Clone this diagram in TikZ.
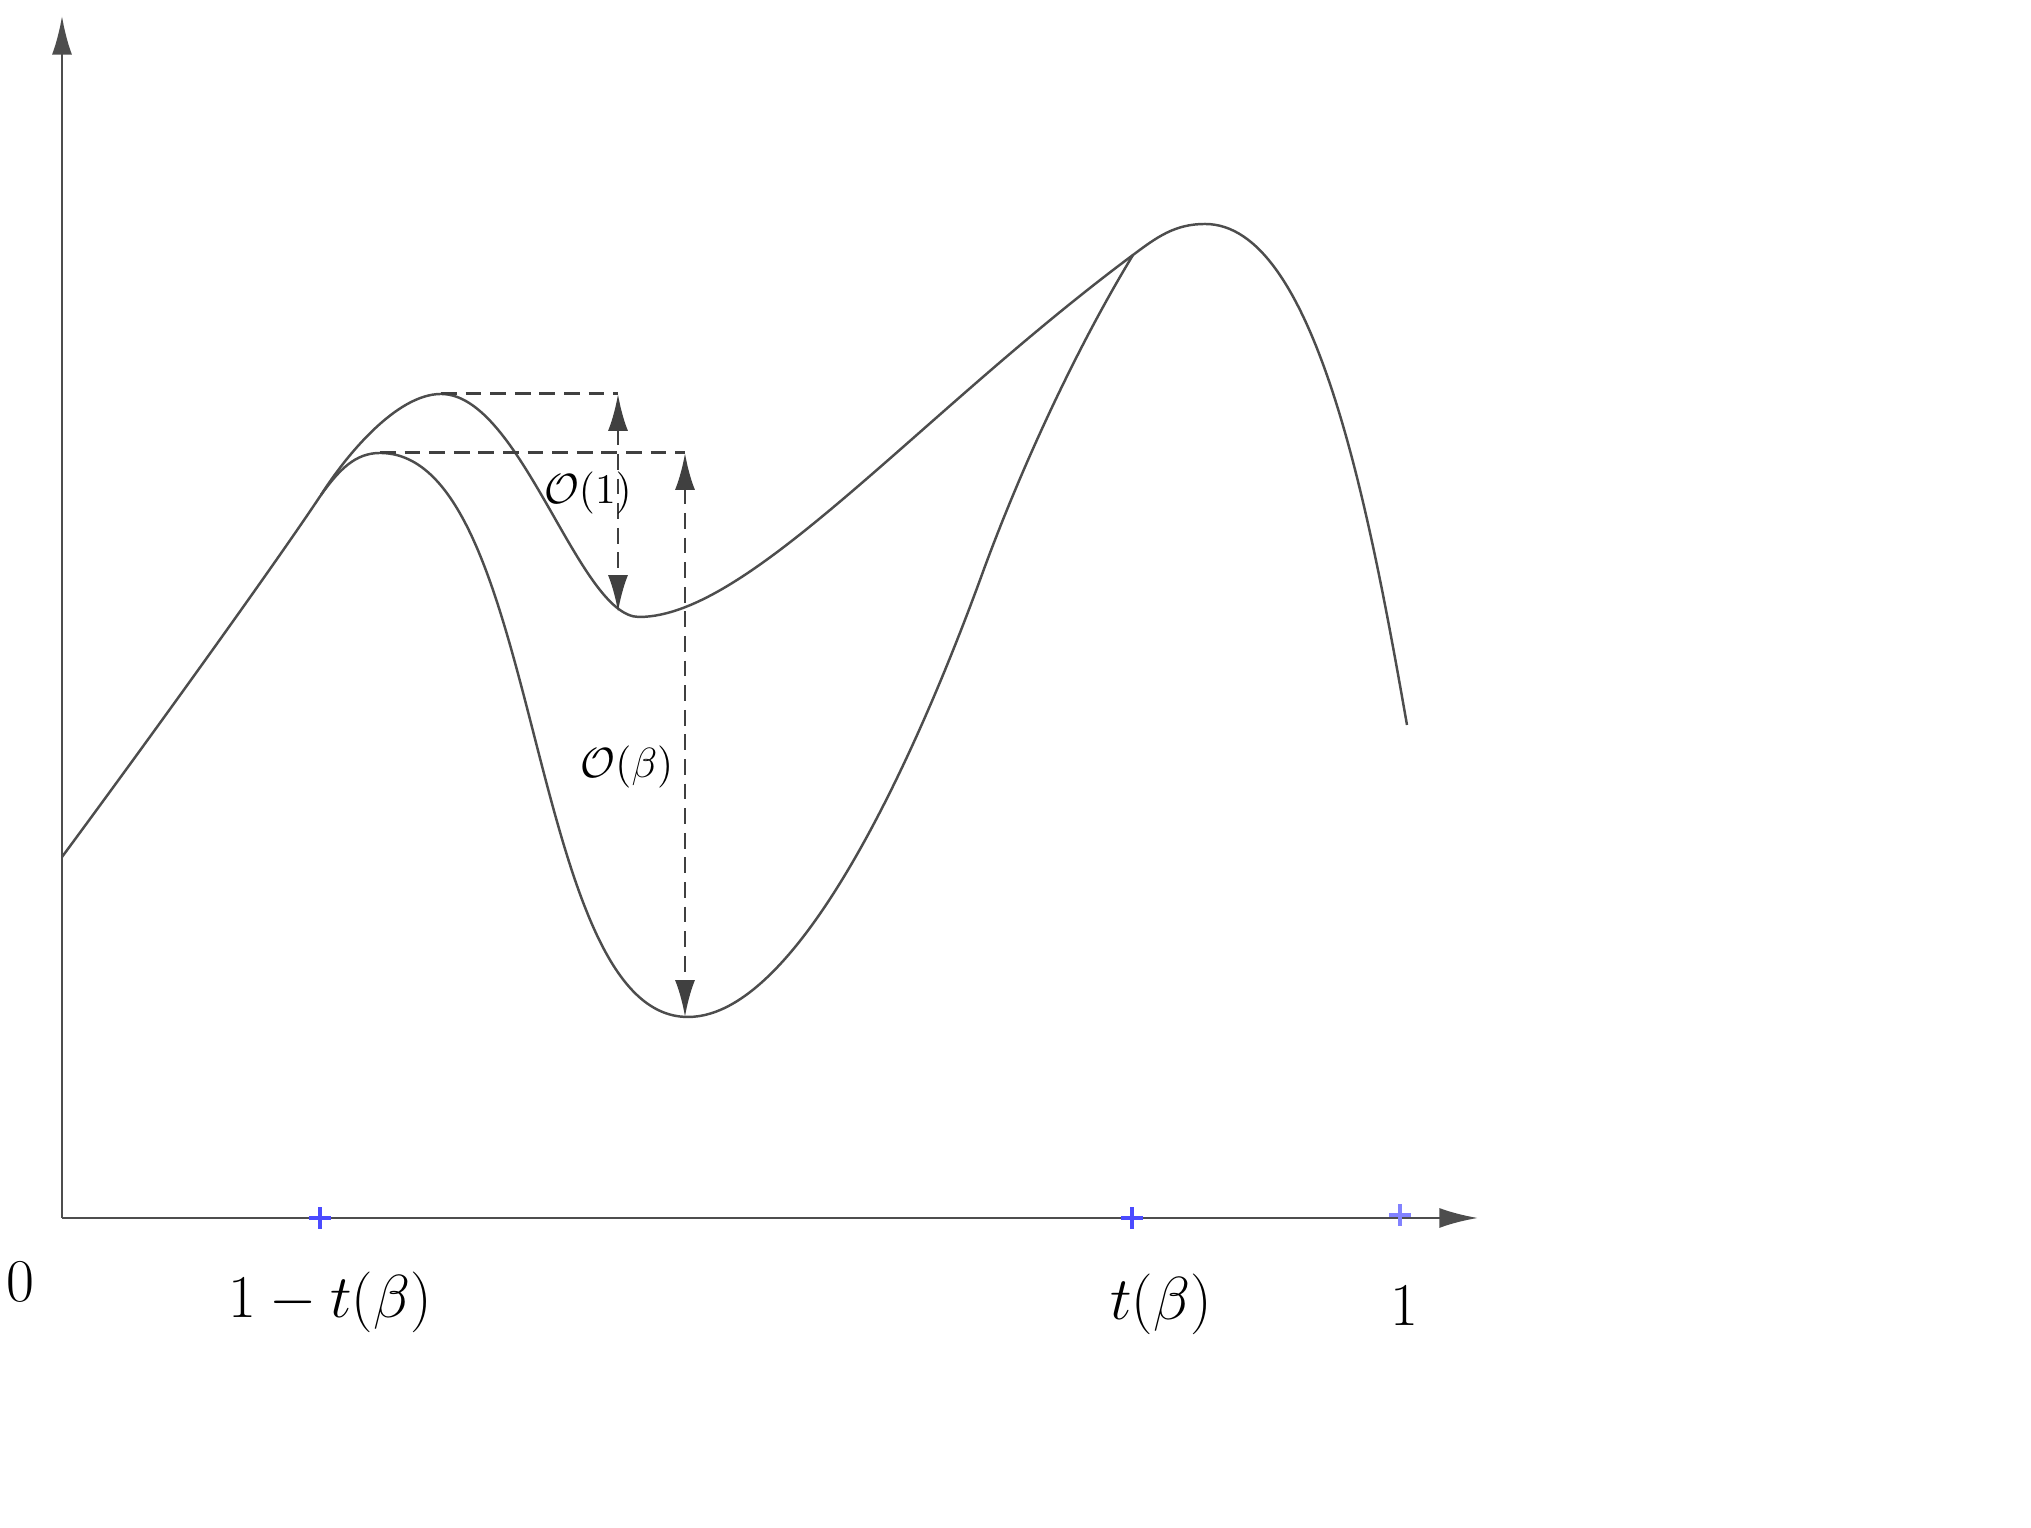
\documentclass[tikz,border=0pt]{standalone}
\usepackage{amsmath}
\usetikzlibrary{arrows.meta}

\definecolor{curvegray}{HTML}{4D4D4D}
\definecolor{guidegray}{HTML}{404040}
\definecolor{tickblue}{HTML}{4B4BFF}
\definecolor{ticklight}{HTML}{8282FF}

\begin{document}
\begin{tikzpicture}[
  axis/.style = {draw=curvegray, line width=0.75pt, -{Latex[length=11pt,width=5.7pt]}},
  curve/.style = {draw=curvegray, line width=0.7pt},
  guide/.style = {draw=guidegray, line width=0.85pt, dash pattern=on 4.5pt off 2.5pt},
  gap/.style = {guide, {Latex[length=10.5pt,width=5.7pt]}-{Latex[length=10.5pt,width=5.7pt]}},
  ticklab/.style = {font=\fontsize{17}{20}\selectfont},
  gaplab/.style = {font=\fontsize{11.5}{14}\selectfont},
  tickmark/.style = {line width=1.2pt}
]
\useasboundingbox (-0.62,-3.10) rectangle (19.69,12.18);

% axes
\coordinate (O) at (0,0);
\coordinate (xend) at (14.16,0);
\coordinate (yend) at (0,12.02);
\draw[axis] (O) -- (xend);
\draw[axis] (O) -- (yend);

% points on the curves
\coordinate (start) at (0,3.61);
\coordinate (split) at (2.59,7.23);
\coordinate (top1) at (3.79,8.24);
\coordinate (top2) at (3.18,7.65);
\coordinate (bot1) at (5.77,6.01);
\coordinate (bot2) at (6.26,2.01);
\coordinate (steep) at (9.22,6.49);
\coordinate (join) at (10.71,9.63);
\coordinate (top3) at (11.43,9.94);
\coordinate (stop) at (13.45,4.93);

% upper curve
\draw[curve] (start) .. controls +(0.85,1.15) and +(-0.5,-0.75) .. (split)
  .. controls +(0.24,0.38) and +(-0.45,0) .. (top1)
  .. controls +(0.8,0) and +(-0.6,0) .. (bot1)
  .. controls +(1.1,0) and +(-2.15,-1.6) .. (join)
  .. controls +(0.24,0.18) and +(-0.3,0) .. (top3)
  .. controls +(1.1,0) and +(-0.38,2.17) .. (stop);

% lower curve
\draw[curve] (split) .. controls +(0.18,0.25) and +(-0.25,0) .. (top2)
  .. controls +(1.63,0) and +(-1.63,0) .. (bot2)
  .. controls +(1.2,0) and +(-0.51,-1.41) .. (steep)
  .. controls +(0.38,1.03) and +(-0.57,-0.94) .. (join);

% gaps
\coordinate (up1) at (5.56,8.24);
\coordinate (low1) at (5.56,6.06);
\coordinate (up2) at (6.23,7.65);
\coordinate (low2) at (6.23,2.01);

\draw[guide] (top1) -- (up1);
\draw[guide] (top2) -- (up2);
\draw[gap] (up1) -- (low1);
\draw[gap] (up2) -- (low2);

\node[gaplab] (o1) at (5.26,7.25) {$\mathcal{O}(1)$};
\node[gaplab] (ob) at (5.65,4.51) {$\mathcal{O}(\beta)$};

% ticks
\draw[tickmark, tickblue] (2.58,0) +(-0.11,0) -- +(0.11,0) +(0,-0.11) -- +(0,0.11);
\draw[tickmark, tickblue] (10.70,0) +(-0.11,0) -- +(0.11,0) +(0,-0.11) -- +(0,0.11);
\draw[tickmark, ticklight] (13.38,0.03) +(-0.11,0) -- +(0.11,0) +(0,-0.11) -- +(0,0.11);

\node[ticklab] (zero) at (-0.42,-0.64) {$0$};
\node[ticklab] (left) at (2.68,-0.84) {$1-t(\beta)$};
\node[ticklab] (right) at (10.99,-0.86) {$t(\beta)$};
\node[ticklab] (one) at (13.42,-0.88) {$1$};

\end{tikzpicture}
\end{document}
